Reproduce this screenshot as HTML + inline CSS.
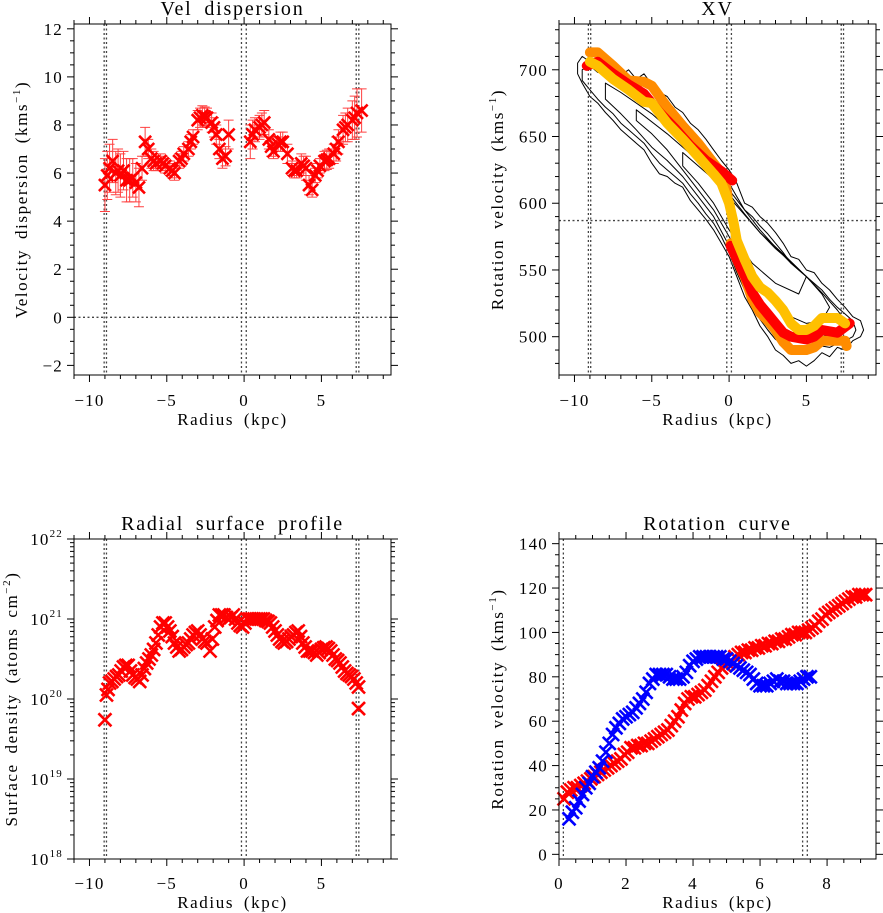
<!DOCTYPE html>
<html><head><meta charset="utf-8">
<style>
html,body{margin:0;padding:0;background:#fff;}
svg{display:block;font-family:"Liberation Serif",serif;}
</style></head>
<body>
<svg id="fig" width="883" height="913" viewBox="0 0 883 913" xmlns="http://www.w3.org/2000/svg"></svg>
<script>
// ---------- Panel 1: velocity dispersion ----------
const dispRadius = [-9.0,-8.85,-8.7,-8.5,-8.3,-8.15,-8.0,-7.8,-7.6,-7.4,-7.2,-7.0,-6.8,-6.6,-6.4,-6.2,-6.0,-5.85,-5.7,-5.4,-5.25,-5.1,-4.8,-4.65,-4.5,-4.2,-4.05,-3.9,-3.6,-3.45,-3.3,-3.0,-2.85,-2.7,-2.55,-2.4,-2.1,-1.95,-1.8,-1.6,-1.4,-1.2,-1.0,0.4,0.55,0.7,1.0,1.15,1.3,1.6,1.75,1.9,2.2,2.35,2.5,2.8,3.1,3.25,3.4,3.7,3.85,4.0,4.2,4.4,4.6,4.75,4.9,5.2,5.35,5.5,5.8,5.95,6.1,6.4,6.55,6.7,7.0,7.15,7.3,7.6];
const dispValues = [5.5,5.9,6.2,6.5,6.0,6.1,5.9,6.1,5.7,5.7,5.8,5.6,5.4,6.2,7.3,7.0,6.6,6.5,6.4,6.5,6.4,6.3,6.2,6.1,6.0,6.5,6.6,6.8,7.0,7.3,7.5,8.2,8.3,8.4,8.35,8.3,8.1,7.9,7.6,7.0,6.6,6.7,7.6,7.3,7.6,7.8,7.9,8.0,8.1,7.4,7.1,6.9,7.2,7.3,7.3,6.8,6.2,6.1,6.1,6.4,6.3,6.2,5.5,5.3,5.9,6.1,6.3,6.5,6.55,6.6,6.8,7.0,7.3,7.8,7.9,8.0,8.2,8.3,8.5,8.6];
const dispErrors = [1.1,1.0,1.0,0.9,0.9,0.9,0.9,0.8,0.9,0.9,0.8,0.8,0.8,0.5,0.6,0.4,0.4,0.4,0.3,0.3,0.3,0.3,0.3,0.3,0.3,0.3,0.3,0.3,0.3,0.3,0.3,0.4,0.4,0.4,0.4,0.4,0.4,0.4,0.4,0.4,0.4,0.4,0.6,0.7,0.6,0.5,0.5,0.5,0.5,0.4,0.4,0.3,0.3,0.4,0.4,0.4,0.3,0.3,0.3,0.4,0.4,0.5,0.4,0.3,0.3,0.3,0.3,0.4,0.4,0.4,0.4,0.5,0.5,0.6,0.6,0.7,0.8,0.9,1.0,0.9];
const dispXTicks = [-10,-5,0,5];
const dispYTicks = [-2,0,2,4,6,8,10,12];
// ---------- Panel 2: XV ----------
const xvContour1 = [[-9.8,705],[-9.5,710],[-9,706],[-8.5,708],[-8,700],[-7.5,705],[-7,696],[-6.5,700],[-6,693],[-5.5,697],[-5,689],[-4.5,683],[-4,680],[-3.5,672],[-3,668],[-2.5,660],[-2,655],[-1.5,648],[-1,640],[-0.5,632],[0,625],[0.5,615],[1,600],[1.5,597],[2,590],[2.5,585],[3,578],[3.5,570],[4,560],[4.5,558],[5,550],[5.5,548],[6,540],[6.5,535],[7,528],[7.5,522],[8,515],[8.5,512],[8.7,505],[8.5,500],[8,497],[7.5,490],[7,492],[6.5,485],[6,488],[5.5,482],[5,478],[4.5,482],[4,480],[3.5,486],[3,490],[2.5,500],[2,508],[1.5,520],[1,530],[0.5,545],[0,560],[-0.5,570],[-1,580],[-1.5,588],[-2,595],[-2.5,602],[-3,612],[-3.5,615],[-4,620],[-4.5,622],[-5,630],[-5.5,640],[-6,645],[-6.5,650],[-7,655],[-7.5,662],[-8,668],[-8.5,675],[-9,680],[-9.5,690],[-9.8,697]];
const xvContour2 = [[-9.5,700],[-9,703],[-8.5,698],[-8,697],[-7.5,692],[-7,693],[-6.5,688],[-6,688],[-5.5,682],[-5,679],[-4.5,672],[-4,668],[-3.5,662],[-3,658],[-2.5,650],[-2,645],[-1.5,638],[-1,630],[-0.5,622],[0,615],[0.5,605],[1,595],[1.5,590],[2,583],[2.5,577],[3,570],[3.5,563],[4,555],[4.5,550],[5,545],[5.5,540],[6,535],[6.5,528],[7,522],[7.5,517],[8,512],[8.2,505],[8,500],[7.5,497],[7,495],[6.5,492],[6,493],[5.5,490],[5,487],[4.5,488],[4,490],[3.5,494],[3,498],[2.5,505],[2,513],[1.5,523],[1,535],[0.5,548],[0,563],[-0.5,575],[-1,585],[-1.5,592],[-2,600],[-2.5,607],[-3,615],[-3.5,620],[-4,625],[-4.5,630],[-5,637],[-5.5,645],[-6,650],[-6.5,655],[-7,660],[-7.5,667],[-8,672],[-8.5,678],[-9,685],[-9.5,692]];
const xvContour3 = [[-8,690],[-7,683],[-6,675],[-5,667],[-4,657],[-3,647],[-2,637],[-1,624],[0,610],[1,595],[2,580],[3,567],[4,555],[5,545],[6,533],[7,520],[7.5,512],[7,503],[6,500],[5,497],[4,500],[3,508],[2,520],[1,540],[0,568],[-1,590],[-2,605],[-3,620],[-4,632],[-5,642],[-6,655],[-7,667],[-8,678]];
const xvContour4 = [[-6,670],[-4,652],[-2,632],[-1,622],[0,607],[1,592],[2,578],[3,566],[4,556],[5,545],[6,532],[6.5,522],[6,512],[5,510],[4,515],[3,525],[2,540],[1,555],[0,575],[-1,595],[-2,610],[-3,625],[-4,640],[-5,652],[-6,662]];
const xvContour5 = [[-3,638],[-1,618],[0.5,598],[2,578],[3.5,562],[5,545],[4.5,532],[3,540],[1.5,555],[0,580],[-1,600],[-2,615],[-3,628]];
const xvOrangeA = [[-9,713],[-8.5,713],[-7.5,703],[-6.5,692],[-5.5,691],[-5,688],[-4,672],[-3,658],[-2,645],[-1,630],[-0.3,620],[-0.1,605]];
const xvOrangeB = [[0.1,570],[0.5,558],[1,545],[1.5,528],[2,518],[2.5,512],[3,505],[3.5,496],[4,490],[5,490],[5.5,492],[6,497],[7,497],[7.5,497],[7.6,493]];
const xvRedA = [[-9.2,703],[-8.5,706],[-7.5,697],[-6.5,689],[-5.5,682],[-4.5,668],[-3.5,656],[-2.5,643],[-1.5,632],[-0.5,624],[0.2,617]];
const xvRedB = [[0.1,568],[0.5,558],[1,546],[1.5,533],[2,524],[2.5,517],[3,510],[3.5,503],[4,500],[5,498],[5.5,500],[6,505],[7,503],[7.8,510]];
const xvYellow = [[-9,706],[-8.5,703],[-7.5,693],[-6.5,685],[-5.5,676],[-5,675],[-4,660],[-3,648],[-2,635],[-1,622],[-0.5,615],[0,600],[0.3,585],[0.5,572],[1,558],[1.5,545],[2,537],[2.5,533],[3,527],[3.5,520],[4,510],[4.5,505],[5,505],[5.5,508],[6,514],[7,514],[7.5,510]];
const xvSystemic = 587;
const xvYTicks = [500,550,600,650,700];
// ---------- Panel 3: surface density (log10) ----------
const sdRadius = [-9.0,-8.9,-8.8,-8.7,-8.55,-8.4,-8.25,-8.1,-7.95,-7.8,-7.65,-7.5,-7.35,-7.2,-7.05,-6.9,-6.75,-6.6,-6.45,-6.3,-6.15,-6.0,-5.85,-5.7,-5.55,-5.4,-5.25,-5.1,-4.95,-4.8,-4.65,-4.5,-4.35,-4.2,-4.05,-3.9,-3.75,-3.6,-3.45,-3.3,-3.15,-3.0,-2.85,-2.7,-2.55,-2.4,-2.2,-2.05,-1.9,-1.75,-1.6,-1.45,-1.3,-1.15,-1.0,-0.85,-0.7,-0.55,-0.4,-0.25,-0.1,0.05,0.2,0.35,0.5,0.65,0.8,0.95,1.1,1.25,1.4,1.55,1.7,1.85,2.0,2.15,2.3,2.45,2.6,2.75,2.9,3.05,3.2,3.35,3.5,3.65,3.8,3.95,4.1,4.25,4.4,4.55,4.7,4.85,5.0,5.15,5.3,5.45,5.6,5.75,5.9,6.05,6.2,6.35,6.5,6.65,6.8,6.95,7.1,7.25,7.4,7.4];
const sdLogValues = [19.74,20.05,20.12,20.2,20.22,20.25,20.28,20.3,20.35,20.4,20.42,20.42,20.35,20.3,20.27,20.25,20.22,20.3,20.38,20.45,20.5,20.55,20.62,20.7,20.8,20.9,20.95,20.95,20.9,20.85,20.78,20.7,20.65,20.6,20.62,20.65,20.68,20.7,20.75,20.8,20.83,20.85,20.8,20.75,20.72,20.7,20.6,20.75,20.9,20.98,21.05,21.05,21.05,21.02,21.0,21.02,21.05,21.0,20.95,20.92,20.9,20.95,21.0,21.0,21.0,21.0,21.0,21.0,21.0,21.0,20.98,20.97,20.95,20.9,20.85,20.8,20.75,20.72,20.7,20.72,20.75,20.78,20.8,20.83,20.85,20.78,20.7,20.65,20.6,20.6,20.6,20.58,20.55,20.58,20.62,20.64,20.65,20.63,20.6,20.55,20.5,20.48,20.45,20.4,20.35,20.32,20.3,20.28,20.25,20.2,20.15,19.88];
const sdYTicks = [18,19,20,21,22];
// ---------- Panel 4: rotation curve ----------
const rcRedRadius = [0.15,0.25,0.35,0.45,0.55,0.65,0.75,0.85,0.95,1.05,1.15,1.25,1.35,1.45,1.55,1.65,1.75,1.85,1.95,2.05,2.15,2.25,2.35,2.45,2.55,2.65,2.75,2.85,2.95,3.05,3.15,3.25,3.35,3.45,3.55,3.65,3.75,3.85,3.95,4.05,4.15,4.25,4.35,4.45,4.55,4.65,4.75,4.85,4.95,5.05,5.15,5.25,5.35,5.45,5.55,5.65,5.75,5.85,5.95,6.05,6.15,6.25,6.35,6.45,6.55,6.65,6.75,6.85,6.95,7.05,7.15,7.25,7.35,7.45,7.55,7.65,7.75,7.85,7.95,8.05,8.15,8.25,8.35,8.45,8.55,8.65,8.75,8.85,8.95,9.05,9.15];
const rcRedVel = [25,28,29,30,30,31,32,33,34,35,36,37,38,39,40,41,42,43,45,46,48,48,49,49,50,50,51,52,53,54,55,56,58,60,62,65,68,70,71,71,72,73,74,76,78,80,82,84,85,86,87,89,90,91,91,92,92,93,93,94,94,95,95,96,96,97,97,98,99,99,100,100,100,101,102,103,105,106,108,109,110,111,112,113,114,115,116,116,117,117,117];
const rcBlueRadius = [0.3,0.4,0.5,0.6,0.7,0.8,0.9,1.0,1.1,1.2,1.3,1.4,1.5,1.6,1.7,1.8,1.9,2.0,2.1,2.2,2.3,2.4,2.5,2.6,2.7,2.8,2.9,3.0,3.1,3.2,3.3,3.4,3.5,3.6,3.7,3.8,3.9,4.0,4.1,4.2,4.3,4.4,4.5,4.6,4.7,4.8,4.9,5.0,5.1,5.2,5.3,5.4,5.5,5.6,5.7,5.8,5.9,6.0,6.1,6.2,6.3,6.4,6.5,6.6,6.7,6.8,6.9,7.0,7.1,7.2,7.3,7.4,7.5];
const rcBlueVel = [16,19,21,24,27,30,32,35,37,39,42,46,50,54,57,59,61,62,63,64,66,68,70,73,77,79,81,81,81,81,80,79,79,79,80,82,85,87,88,89,89,89,89,89,89,89,88,88,87,86,85,84,83,82,81,79,77,76,76,76,77,78,79,78,78,77,77,77,77,78,79,80,80];
const rcXTicks = [0,2,4,6,8];
const rcYTicks = [0,20,40,60,80,100,120,140];

const NS = "http://www.w3.org/2000/svg";
const fig = document.getElementById('fig');
function mk(tag, attrs, parent){
  const e = document.createElementNS(NS, tag);
  for (const k in attrs) e.setAttribute(k, attrs[k]);
  (parent||fig).appendChild(e);
  return e;
}
function panel(name, L, R, T, B, x0, x1, y0, y1){
  const g = mk('g', {});
  
  
  return {g, L, R, T, B,
    sx: v => L + (v - x0) / (x1 - x0) * (R - L),
    sy: v => B - (v - y0) / (y1 - y0) * (B - T), x0, x1, y0, y1};
}
function frame(p){
  const r = mk('rect', {x:p.L, y:p.T, width:p.R-p.L, height:p.B-p.T, fill:'none', stroke:'#000', 'stroke-width':1}, p.g);
  
  
}
const TICKFS = 17, TICKLS = 1.2;
function xTicks(p, majors, minorStep, labelY){
  const ax = mk('g', {}, p.g);
  
  
  const start = Math.ceil(p.x0/minorStep)*minorStep;
  for (let v = start; v <= p.x1 + 1e-9; v += minorStep){
    const x = p.sx(v);
    const isMaj = majors.some(m => Math.abs(m - v) < 1e-6);
    const len = isMaj ? 7 : 4;
    mk('line', {x1:x, x2:x, y1:p.B, y2:p.B+len, stroke:'#000','stroke-width':1}, ax);
    mk('line', {x1:x, x2:x, y1:p.T, y2:p.T-len, stroke:'#000','stroke-width':1}, ax);
  }
  majors.forEach(m => {
    const t = mk('text', {x:p.sx(m), y:labelY, 'font-size':TICKFS, 'letter-spacing':TICKLS, 'text-anchor':'middle'}, ax);
    t.textContent = m < 0 ? '\u2212' + Math.abs(m) : String(m);
    
    
  });
}
function yTicks(p, majors, minorStep, fmtSup){
  const ax = mk('g', {}, p.g);
  
  
  const start = Math.ceil(p.y0/minorStep)*minorStep;
  for (let v = start; v <= p.y1 + 1e-9; v += minorStep){
    const y = p.sy(v);
    const isMaj = majors.some(m => Math.abs(m - v) < 1e-6);
    const len = isMaj ? 7 : 4;
    mk('line', {x1:p.L, x2:p.L-len, y1:y, y2:y, stroke:'#000','stroke-width':1}, ax);
    mk('line', {x1:p.R, x2:p.R+len, y1:y, y2:y, stroke:'#000','stroke-width':1}, ax);
  }
  majors.forEach(m => {
    const t = mk('text', {x:p.L-11, y:p.sy(m)+6, 'font-size':TICKFS, 'letter-spacing':TICKLS, 'text-anchor':'end'}, ax);
    if (fmtSup){
      t.textContent = '10';
      const s = mk('tspan', {dy:-8, 'font-size':11}, t);
      s.textContent = String(m);
    } else {
      t.textContent = m < 0 ? '\u2212' + Math.abs(m) : String(m);
    }
    
    
  });
}
function logMinors(p){
  for (let d = Math.floor(p.y0); d < p.y1; d++){
    for (let k = 2; k <= 9; k++){
      const y = p.sy(d + Math.log10(k));
      mk('line', {x1:p.L, x2:p.L-4, y1:y, y2:y, stroke:'#000','stroke-width':1}, p.g);
      mk('line', {x1:p.R, x2:p.R+4, y1:y, y2:y, stroke:'#000','stroke-width':1}, p.g);
    }
  }
}
function vdot(p, v){
  const l = mk('line', {x1:p.sx(v), x2:p.sx(v), y1:p.T, y2:p.B, stroke:'#444','stroke-width':1.3,'stroke-dasharray':'2,2.5'}, p.g);
  
  
}
function hdot(p, v){
  const l = mk('line', {x1:p.L, x2:p.R, y1:p.sy(v), y2:p.sy(v), stroke:'#444','stroke-width':1.3,'stroke-dasharray':'2,2.5'}, p.g);
  
  
}
function cross(p, x, y, s, col, w){
  const cx = p.sx(x), cy = p.sy(y);
  const path = mk('path', {d:`M${cx-s},${cy-s}L${cx+s},${cy+s}M${cx-s},${cy+s}L${cx+s},${cy-s}`, stroke:col, 'stroke-width':w, fill:'none'}, p.g);
  
  
}
function titles(p, title, titleY, xt, xtY, yt, ytX){
  const a = mk('text', {x:(p.L+p.R)/2, y:titleY, 'font-size':20, 'letter-spacing':1.8, 'word-spacing':5, 'text-anchor':'middle'}, p.g);
  a.textContent = title;
  
  
  const b = mk('text', {x:(p.L+p.R)/2, y:xtY, 'font-size':17, 'letter-spacing':1.6, 'word-spacing':4, 'text-anchor':'middle'}, p.g);
  b.textContent = xt;
  
  
  const cy = (p.T+p.B)/2;
  const c = mk('text', {x:ytX, y:cy, 'font-size':17, 'letter-spacing':1.6, 'word-spacing':4, 'text-anchor':'middle', transform:`rotate(-90 ${ytX} ${cy})`}, p.g);
  c.textContent = yt[0];
  const s = mk('tspan', {dy:-7, 'font-size':11}, c); s.textContent = yt[1];
  const r = mk('tspan', {dy:7}, c); r.textContent = yt[2];
  
  
}
function polyPts(p, arr){ return arr.map(q => p.sx(q[0]).toFixed(1)+','+p.sy(q[1]).toFixed(1)).join(' '); }

// ===== Panel 1 =====
const p1 = panel('vel-dispersion-panel', 74, 391, 24, 375, -11, 9.5, -2.4, 12.2);
[-9.05,-8.9,-0.17,0.14,7.25,7.42].forEach(v => vdot(p1, v));
hdot(p1, 0);
dispRadius.forEach((r,i) => {
  const x = p1.sx(r), y1 = p1.sy(dispValues[i]-dispErrors[i]), y2 = p1.sy(dispValues[i]+dispErrors[i]);
  const e = mk('path', {d:`M${x},${y1}L${x},${y2}M${x-5},${y1}L${x+5},${y1}M${x-5},${y2}L${x+5},${y2}`, stroke:'#ff4040','stroke-width':1, fill:'none'}, p1.g);
  
  
});
dispRadius.forEach((r,i) => cross(p1, r, dispValues[i], 6, '#ff0000', 2.6));
frame(p1);
xTicks(p1, dispXTicks, 1, 406);
yTicks(p1, dispYTicks, 0.5);
titles(p1, 'Vel dispersion', 15, 'Radius (kpc)', 425, ['Velocity dispersion (kms','\u22121',')'], 27);

// ===== Panel 2 =====
const p2 = panel('xv-panel', 559, 876, 24, 375, -11, 9.5, 471.3, 734.3);
[xvContour1, xvContour2, xvContour3, xvContour4, xvContour5].forEach(c => {
  const pg = mk('polygon', {points:polyPts(p2, c), fill:'none', stroke:'#000','stroke-width':1,'stroke-linejoin':'round'}, p2.g);
  
  
});
[-9.1,-8.95,-0.15,0.15,7.25,7.4].forEach(v => vdot(p2, v));
hdot(p2, xvSystemic);
[[xvOrangeA,'#ff8c00'],[xvOrangeB,'#ff8c00'],[xvRedA,'#ff0000'],[xvRedB,'#ff0000'],[xvYellow,'#ffc000']].forEach(([arr,col]) => {
  const pl = mk('polyline', {points:polyPts(p2, arr), fill:'none', stroke:col,'stroke-width':10,'stroke-linejoin':'round','stroke-linecap':'round'}, p2.g);
  
  
});
frame(p2);
xTicks(p2, dispXTicks, 1, 406);
yTicks(p2, xvYTicks, 10);
titles(p2, 'XV', 15, 'Radius (kpc)', 425, ['Rotation velocity (kms','\u22121',')'], 503);

// ===== Panel 3 =====
const p3 = panel('surface-profile-panel', 74, 391, 539, 859, -11, 9.5, 18, 22);
[-9.05,-8.9,-0.17,0.14,7.25,7.42].forEach(v => vdot(p3, v));
sdRadius.forEach((r,i) => cross(p3, r, sdLogValues[i], 6.5, '#ff0000', 2.6));
frame(p3);
xTicks(p3, dispXTicks, 1, 889);
yTicks(p3, sdYTicks, 1, true);
logMinors(p3);
titles(p3, 'Radial surface profile', 530, 'Radius (kpc)', 908, ['Surface density (atoms cm','\u22122',')'], 17);

// ===== Panel 4 =====
const p4 = panel('rotation-curve-panel', 559, 876, 539, 859, 0, 9.46, -2.1, 142.1);
[0.13,7.27,7.41].forEach(v => vdot(p4, v));
rcRedRadius.forEach((r,i) => cross(p4, r, rcRedVel[i], 6.5, '#ff0000', 2.6));
rcBlueRadius.forEach((r,i) => cross(p4, r, rcBlueVel[i], 6.5, '#0000ff', 2.6));
frame(p4);
xTicks(p4, rcXTicks, 0.5, 889);
yTicks(p4, rcYTicks, 5);
titles(p4, 'Rotation curve', 530, 'Radius (kpc)', 908, ['Rotation velocity (kms','\u22121',')'], 503);
</script>
</body></html>
